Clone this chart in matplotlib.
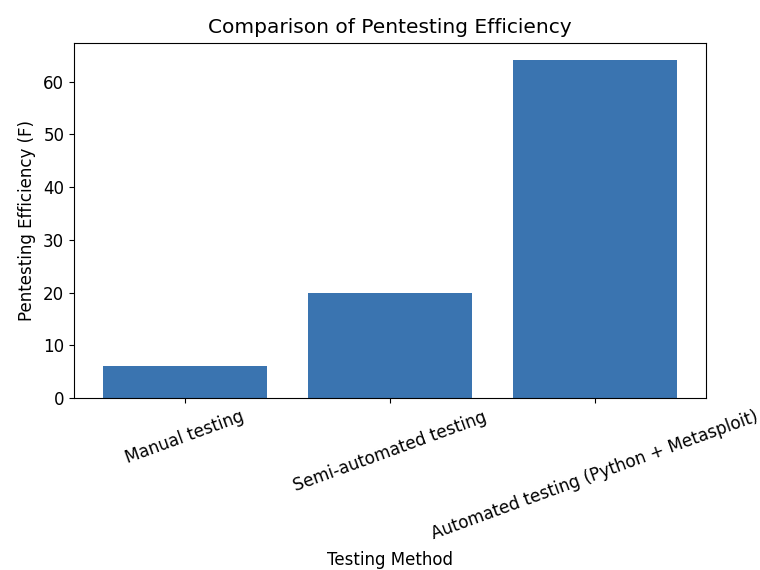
import matplotlib
matplotlib.use("Agg")
from matplotlib import pyplot as plt

# testing methods and their efficiency
methods = ["Manual testing", "Semi-automated testing", "Automated testing (Python + Metasploit)"]
efficiency = [6, 20, 64]

fig = plt.figure(figsize=(7.6, 5.7), dpi=100)
ax = fig.add_axes([74/760, 1-398/570, (706-74)/760, (398-43)/570])
ax.bar(methods, efficiency, color='#3a74b0')
ax.set_ylim(0, 67.3)
ax.set_title("Comparison of Pentesting Efficiency", fontsize=14.5, pad=7)
ax.set_xlabel("Testing Method", fontsize=12, labelpad=6)
ax.set_ylabel("Pentesting Efficiency (F)", fontsize=12, labelpad=5)
plt.xticks(rotation=20, fontsize=12.2)
plt.yticks(fontsize=12)
fig.savefig("out.png", dpi=100)
